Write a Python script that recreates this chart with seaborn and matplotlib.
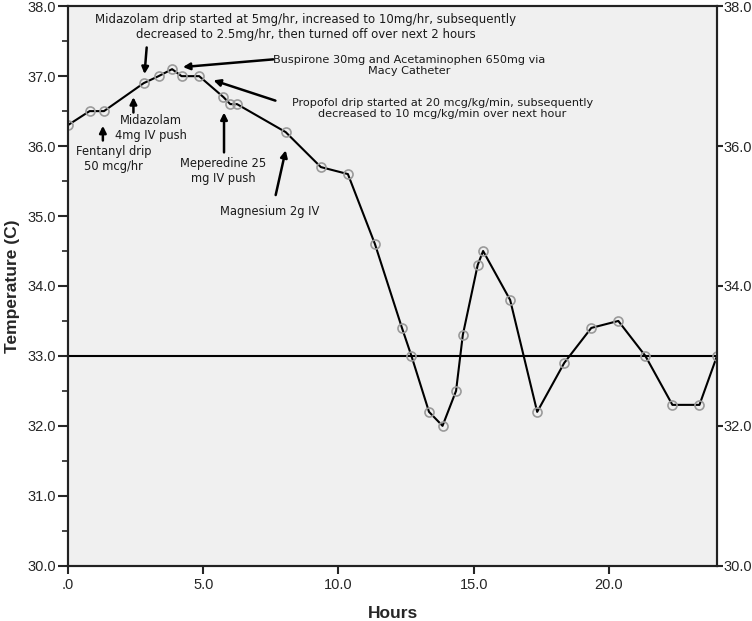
import matplotlib
matplotlib.use('Agg')
import matplotlib.pyplot as plt
import seaborn as sns
import pandas as pd

# temperature readings over time
hours = [0.0, 0.8, 1.33, 2.8, 3.35, 3.85, 4.2, 4.85, 5.75, 6.0, 6.25, 8.05,
         9.35, 10.35, 11.35, 12.35, 12.7, 13.35, 13.85, 14.35, 14.6, 15.15,
         15.35, 16.35, 17.35, 18.35, 19.35, 20.35, 21.35, 22.35, 23.35, 24.0]
temps = [36.3, 36.5, 36.5, 36.9, 37.0, 37.1, 37.0, 37.0, 36.7, 36.6, 36.6, 36.2,
         35.7, 35.6, 34.6, 33.4, 33.0, 32.2, 32.0, 32.5, 33.3, 34.3,
         34.5, 33.8, 32.2, 32.9, 33.4, 33.5, 33.0, 32.3, 32.3, 33.0]
target_temp = 33.0

left_ticks = [30.0, 31.0, 32.0, 33.0, 34.0, 35.0, 36.0, 37.0, 38.0]
right_ticks = [30.0, 32.0, 34.0, 36.0, 38.0]
x_ticks = [0, 5, 10, 15, 20]
x_labels = ['.0', '5.0', '10.0', '15.0', '20.0']

notes = [
    "Midazolam drip started at 5mg/hr, increased to 10mg/hr, subsequently\ndecreased to 2.5mg/hr, then turned off over next 2 hours",
    "Buspirone 30mg and Acetaminophen 650mg via\nMacy Catheter",
    "Propofol drip started at 20 mcg/kg/min, subsequently\ndecreased to 10 mcg/kg/min over next hour",
    "Midazolam\n4mg IV push",
    "Fentanyl drip\n50 mcg/hr",
    "Meperedine 25\nmg IV push",
    "Magnesium 2g IV",
]
# (text x, text y), (arrow tail), (arrow head)
note_pos = [
    ((8.78, 37.70), (2.91, 37.41), (2.83, 37.03)),
    ((12.60, 37.15), (7.59, 37.24), (4.25, 37.13)),
    ((13.85, 36.54), (7.67, 36.65), (5.38, 36.94)),
    ((3.07, 36.26), (2.42, 36.48), (2.42, 36.70)),
    ((1.68, 35.82), (1.29, 36.08), (1.29, 36.29)),
    ((5.73, 35.65), (5.77, 35.91), (5.77, 36.48)),
    ((7.46, 35.06), (7.68, 35.30), (8.05, 35.94)),
]
note_size = [8.5, 8.1, 8.1, 8.3, 8.3, 8.3, 8.3]

df = pd.DataFrame({'Hours': hours, 'Temp': temps})

sns.set_style('ticks')
plt.rcParams['font.family'] = ['Liberation Sans', 'DejaVu Sans']

fig = plt.figure(figsize=(7.52, 6.21), dpi=100)
ax = fig.add_axes([0.0904, 0.089, 0.8631, 0.901])
ax.set_facecolor('#f0f0f0')

ax.axhline(target_temp, color='black', lw=1.5, zorder=2)
sns.lineplot(data=df, x='Hours', y='Temp', ax=ax, color='black', lw=1.5,
             marker='o', markersize=6.5, markerfacecolor='none',
             markeredgecolor='#9a9a9a', markeredgewidth=1.2, zorder=3)

ax.set_xlim(0, 24)
ax.set_ylim(30, 38)
ax.set_xticks(x_ticks)
ax.set_xticklabels(x_labels)
ax.set_yticks(left_ticks)
ax.set_yticklabels([f'{t:.1f}' for t in left_ticks])
ax.set_yticks([30.5 + i for i in range(8)], minor=True)
ax.tick_params(axis='x', which='major', length=6, width=1.5, labelsize=10.5, pad=3)
ax.tick_params(axis='y', which='major', length=7, width=1.5, labelsize=10.5, pad=1.5)
ax.tick_params(axis='y', which='minor', length=4, width=1.2)
ax.set_xlabel('Hours', fontsize=12.5, fontweight='bold', labelpad=10)
ax.set_ylabel('Temperature (C)', fontsize=12.5, fontweight='bold')
ax.yaxis.set_label_coords(-0.074, 0.5)
for s in ax.spines.values():
    s.set_linewidth(1.5)
    s.set_color('#222222')

ax2 = ax.twinx()
ax2.set_ylim(30, 38)
ax2.set_yticks(right_ticks)
ax2.set_yticklabels([f'{t:.1f}' for t in right_ticks])
ax2.tick_params(axis='y', length=4, width=1.5, labelsize=10.5, pad=0.5)
for s in ax2.spines.values():
    s.set_linewidth(1.5)
    s.set_color('#222222')

for txt, (tpos, tail, head), fs in zip(notes, note_pos, note_size):
    ax.text(tpos[0], tpos[1], txt, ha='center', va='center', fontsize=fs,
            family='DejaVu Sans', color='#1a1a1a', linespacing=1.2, zorder=5)
    ax.annotate('', xy=head, xytext=tail,
                arrowprops=dict(arrowstyle='-|>', color='black', lw=1.8,
                                mutation_scale=10, shrinkA=0, shrinkB=0))

fig.savefig('out.png', dpi=100)
